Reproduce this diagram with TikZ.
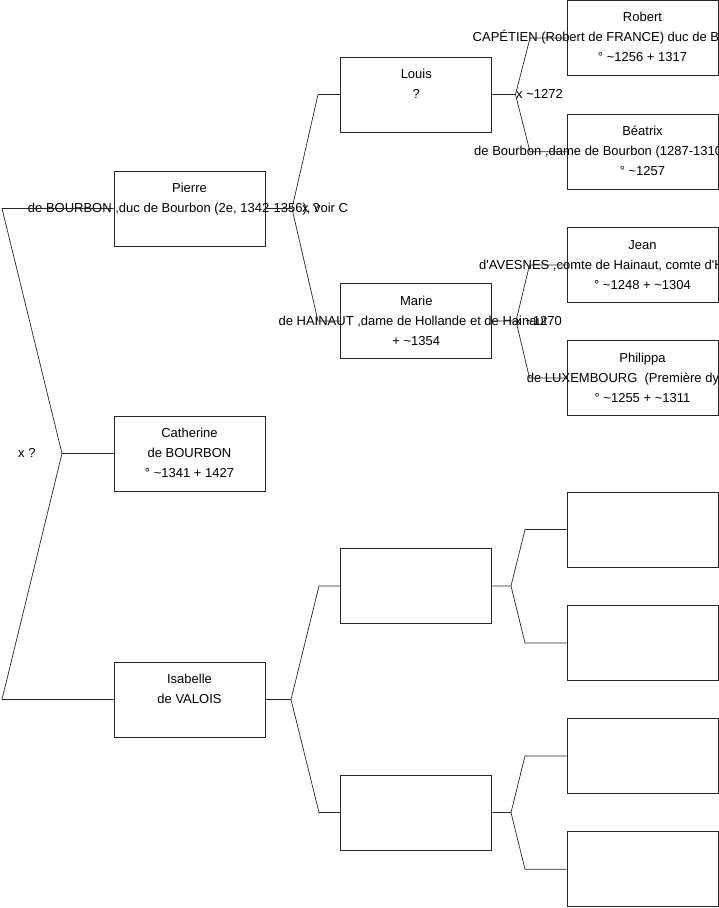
\documentclass[tikz,border=0pt]{standalone}
\usepackage{fontspec}
\setmainfont{Liberation Sans}
\begin{document}
\begin{tikzpicture}[x=1pt,y=-1pt,
  box/.style={draw=black!85,line width=0.9pt,minimum width=151pt,minimum height=75pt,inner sep=0pt},
  txt/.style={anchor=base,inner sep=0pt,font=\fontsize{13}{20}\selectfont},
  ltxt/.style={anchor=base west,inner sep=0pt,font=\fontsize{13}{20}\selectfont},
  link/.style={draw=black!85,line width=0.7pt}]
\useasboundingbox (0,0) rectangle (719,908);
% boxes
\node[box] (pierre) at (189.5,208.5) {};
\node[box] (catherine) at (189.5,453.5) {};
\node[box] (isabelle) at (189.5,699.5) {};
\node[box] (louis) at (416.3,94.5) {};
\node[box] (marie) at (416.3,321) {};
\node[box] (e1) at (416.3,586) {};
\node[box] (e2) at (416.3,812.5) {};
\node[box] (robert) at (642.5,38) {};
\node[box] (beatrix) at (642.5,151.8) {};
\node[box] (jean) at (642.5,265) {};
\node[box] (philippa) at (642.5,378) {};
\node[box] (e3) at (642.5,529.5) {};
\node[box] (e4) at (642.5,643) {};
\node[box] (e5) at (642.5,756) {};
\node[box] (e6) at (642.5,869.3) {};
% texts
\node[txt] (pierre1) at (189.5,192.5) {Pierre};
\node[txt] (pierre2) at (188,212.5) {de BOURBON ,duc de Bourbon (2e, 1342-1356), voir C};
\node[txt] (cath1) at (189.5,437.5) {Catherine};
\node[txt] (cath2) at (189.5,457.5) {de BOURBON};
\node[txt] (cath3) at (189.5,477.5) {° \textasciitilde1341 + 1427};
\node[txt] (isa1) at (189.5,683.5) {Isabelle};
\node[txt] (isa2) at (189.5,703.5) {de VALOIS};
\node[txt] (louis1) at (416.3,78.5) {Louis};
\node[txt] (louis2) at (416.3,98.5) {?};
\node[txt] (marie1) at (416.3,305) {Marie};
\node[txt] (marie2) at (413,325) {de HAINAUT ,dame de Hollande et de Hainaut};
\node[txt] (marie3) at (416.3,345) {+ \textasciitilde1354};
\node[txt] (robert1) at (642.5,21.5) {Robert};
\node[ltxt] (robert2) at (472.5,41.5) {CAPÉTIEN (Robert de FRANCE) duc de Bourbon};
\node[txt] (robert3) at (642.5,61) {° \textasciitilde1256 + 1317};
\node[txt] (beat1) at (642.5,135.5) {Béatrix};
\node[ltxt] (beat2) at (474,155.5) {de Bourbon ,dame de Bourbon (1287-1310)};
\node[txt] (beat3) at (642.5,175.5) {° \textasciitilde1257};
\node[txt] (jean1) at (642.5,249) {Jean};
\node[ltxt] (jean2) at (479,269) {d\textquotesingle AVESNES ,comte de Hainaut, comte d\textquotesingle Hollande};
\node[txt] (jean3) at (642.5,289) {° \textasciitilde1248 + \textasciitilde1304};
\node[txt] (phil1) at (642.5,362) {Philippa};
\node[txt] (phil2) at (642.5,382) {de LUXEMBOURG\ \ (Première dynastie)};
\node[txt] (phil3) at (642.5,402) {° \textasciitilde1255 + \textasciitilde1311};
% fork labels
\node[ltxt] (lroot) at (18,457.5) {x ?};
\node[ltxt] (lpierre) at (302,212.5) {x ?};
\node[ltxt] (llouis) at (516,98.5) {x \textasciitilde1272};
\node[ltxt] (lmarie) at (515,325) {x \textasciitilde1270};
% fork points
\coordinate (jr) at (62,453.5);
\coordinate (jru) at (2,208.5);
\coordinate (jrd) at (2,699.5);
\coordinate (jp) at (292,208.5);
\coordinate (jpu) at (318,94.5);
\coordinate (jpd) at (318,321);
\coordinate (ji) at (291,699.5);
\coordinate (jiu) at (319,586);
\coordinate (jid) at (319,812.5);
\coordinate (jl) at (515.5,94.5);
\coordinate (jlu) at (530,38);
\coordinate (jld) at (530,151.8);
\coordinate (jm) at (516,321);
\coordinate (jmu) at (529.5,265);
\coordinate (jmd) at (529.5,378);
\coordinate (j1) at (511,586);
\coordinate (j1u) at (525,529.5);
\coordinate (j1d) at (525,643);
\coordinate (j2) at (511,812.5);
\coordinate (j2u) at (525,756);
\coordinate (j2d) at (525,869.3);
% connectors
\draw[link] (catherine.west) -- (jr) -- (jru) -- (pierre.west);
\draw[link] (jr) -- (jrd) -- (isabelle.west);
\draw[link] (pierre.east) -- (jp) -- (jpu) -- (louis.west);
\draw[link] (jp) -- (jpd) -- (marie.west);
\draw[link] (isabelle.east) -- (ji) -- (jiu) -- (e1.west);
\draw[link] (ji) -- (jid) -- (e2.west);
\draw[link] (louis.east) -- (jl) -- (jlu) -- (robert.west);
\draw[link] (jl) -- (jld) -- (beatrix.west);
\draw[link] (marie.east) -- (jm) -- (jmu) -- (jean.west);
\draw[link] (jm) -- (jmd) -- (philippa.west);
\draw[link] (e1.east) -- (j1) -- (j1u) -- (e3.west);
\draw[link] (j1) -- (j1d) -- (e4.west);
\draw[link] (e2.east) -- (j2) -- (j2u) -- (e5.west);
\draw[link] (j2) -- (j2d) -- (e6.west);
\end{tikzpicture}
\end{document}
